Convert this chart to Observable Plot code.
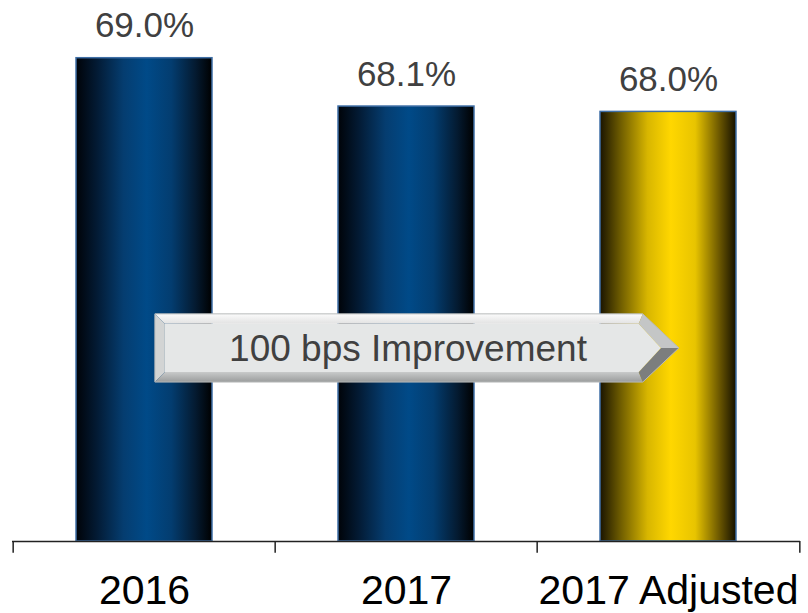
<!DOCTYPE html>
<html><head><meta charset="utf-8">
<script src="https://cdn.jsdelivr.net/npm/d3@7"></script>
<script src="https://cdn.jsdelivr.net/npm/@observablehq/plot@0.6"></script>
<style>body{margin:0;background:#fff;} #chart{width:808px;height:613px;}</style>
</head><body><div id="chart"></div>
<script>
const categories = ["2016", "2017", "2017 Adjusted"];
const values = [69.0, 68.1, 68.0];
const valueLabels = ["69.0%", "68.1%", "68.0%"];
const barStyle = ["blue", "blue", "gold"];
const arrowLabel = ["100 bps Improvement"];
const yDomain = [60, 70];
const arrowSpan = [62.96, 64.23]; // y values of arrow bottom / top

const data = categories.map((c, i) => ({cat: c, value: values[i], label: valueLabels[i], style: barStyle[i]}));
const font = "'Liberation Sans', Arial, Helvetica, sans-serif";

function defsMark() {
  const defs = d3.create("svg:defs");
  const mk = (id, stops) => {
    const g = defs.append("linearGradient").attr("id", id).attr("x1", 0).attr("x2", 1).attr("y1", 0).attr("y2", 0);
    stops.forEach(([o, c]) => g.append("stop").attr("offset", o).attr("stop-color", c));
  };
  mk("gBlue", [[0, "#000308"], [0.15, "#031a33"], [0.35, "#053d70"], [0.52, "#004a88"], [0.7, "#033d70"], [0.88, "#041a30"], [1, "#000000"]]);
  mk("gGold", [[0, "#1a1400"], [0.15, "#6e5c00"], [0.35, "#d8b600"], [0.52, "#ffd700"], [0.7, "#e8c400"], [0.88, "#6a5600"], [1, "#141000"]]);
  const v = defs.append("linearGradient").attr("id", "gTop").attr("x1", 0).attr("x2", 0).attr("y1", 0).attr("y2", 1);
  v.append("stop").attr("offset", 0).attr("stop-color", "#fbfbfb");
  v.append("stop").attr("offset", 1).attr("stop-color", "#e2e2e2");
  const w = defs.append("linearGradient").attr("id", "gBot").attr("x1", 0).attr("x2", 0).attr("y1", 0).attr("y2", 1);
  w.append("stop").attr("offset", 0).attr("stop-color", "#c8caca");
  w.append("stop").attr("offset", 1).attr("stop-color", "#9a9c9c");
  return defs.node();
}

function arrowMark(index, scales) {
  const {x, y} = scales;
  const bw = x.bandwidth();
  const x0 = x(categories[0]) + bw * 0.58;
  const xTip = x(categories[2]) + bw * 0.58;
  const yT = y(arrowSpan[1]), yB = y(arrowSpan[0]), yM = (yT + yB) / 2;
  const hh = (yB - yT) / 2;
  const xH = xTip - hh - 2;
  const b = 10;
  const ix0 = x0 + b, iyT = yT + b, iyB = yB - b, ixH = xH - 4, ixTip = xTip - 18;
  const g = d3.create("svg:g");
  const poly = (pts, fill, stroke) => g.append("polygon").attr("points", pts.map(p => p.join(",")).join(" ")).attr("fill", fill).attr("stroke", stroke || "none").attr("stroke-width", 1);
  poly([[x0, yT], [xH, yT], [ixH, iyT], [ix0, iyT]], "url(#gTop)");
  poly([[x0, yT], [ix0, iyT], [ix0, iyB], [x0, yB]], "#d2d4d4");
  poly([[x0, yB], [xH, yB], [ixH, iyB], [ix0, iyB]], "url(#gBot)");
  poly([[xH, yT], [xTip, yM], [ixTip, yM], [ixH, iyT]], "#c4c6c6");
  poly([[xTip, yM], [xH, yB], [ixH, iyB], [ixTip, yM]], "#7c7e7e");
  poly([[ix0, iyT], [ixH, iyT], [ixTip, yM], [ixH, iyB], [ix0, iyB]], "#e5e7e7");
  poly([[x0, yT], [xH, yT], [xTip, yM], [xH, yB], [x0, yB]], "none", "#b8baba");
  g.append("text")
    .attr("x", 408).attr("y", yM).attr("dy", "0.35em")
    .attr("text-anchor", "middle")
    .attr("font-family", font).attr("font-size", 37).attr("fill", "#404040")
    .text(arrowLabel[0]);
  return g.node();
}

const step = (808 - 12 - 8) / categories.length;

const plot = Plot.plot({
  width: 808,
  height: 613,
  marginTop: 4,
  marginBottom: 72,
  marginLeft: 12,
  marginRight: 8,
  style: {fontFamily: font, background: "white", overflow: "visible"},
  x: {domain: categories, paddingInner: 0.48, paddingOuter: 0.24, axis: null},
  y: {domain: yDomain, axis: null},
  marks: [
    defsMark,
    Plot.barY(data.filter(d => d.style === "blue"), {x: "cat", y1: yDomain[0], y2: "value", fill: "url(#gBlue)", stroke: "#3f6fa6", strokeWidth: 1.5}),
    Plot.barY(data.filter(d => d.style === "gold"), {x: "cat", y1: yDomain[0], y2: "value", fill: "url(#gGold)", stroke: "#3f6fa6", strokeWidth: 1.5}),
    Plot.text(data, {x: "cat", y: "value", text: "label", dy: -32, fontSize: 35, fill: "#404040"}),
    arrowMark,
    Plot.ruleY([yDomain[0]], {stroke: "#222", strokeWidth: 1.5}),
    Plot.ruleX(categories, {x: d => d, y1: yDomain[0], y2: 59.78, dx: -step / 2, stroke: "#222", strokeWidth: 1.5}),
    Plot.ruleX([categories[categories.length - 1]], {x: d => d, y1: yDomain[0], y2: 59.78, dx: step / 2, stroke: "#222", strokeWidth: 1.5}),
    Plot.text(categories, {x: d => d, y: yDomain[0], text: d => d, dy: 49, fontSize: 41, fill: "#000"})
  ]
});
document.getElementById("chart").append(plot);
</script>
</body></html>
